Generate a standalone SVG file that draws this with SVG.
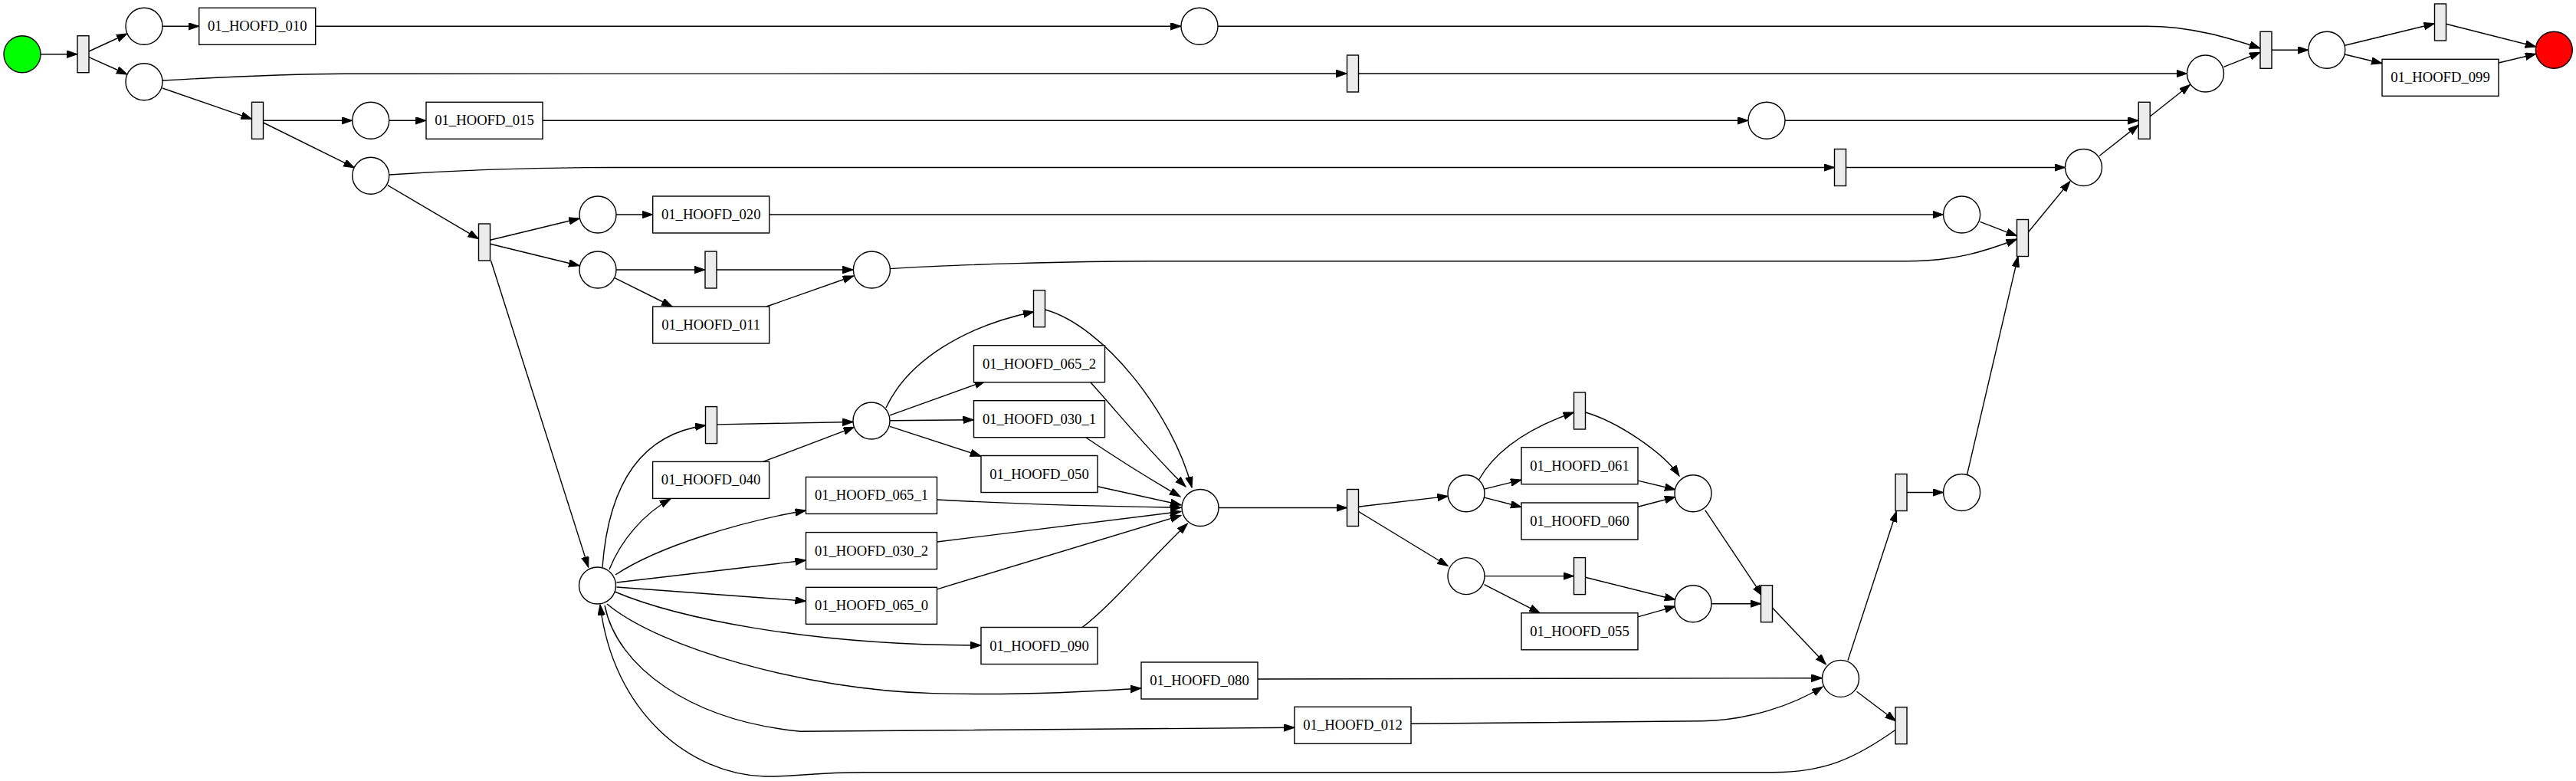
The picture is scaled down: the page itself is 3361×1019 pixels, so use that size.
<svg xmlns="http://www.w3.org/2000/svg" width="3361" height="1019" viewBox="0 0 3361 1019">
<style>
.pl{fill:#fff;stroke:#000;stroke-width:1.4}
.tr{fill:#ececec;stroke:#000;stroke-width:1.4}
.bx{fill:#fff;stroke:#000;stroke-width:1.4}
.lb{font-family:"Liberation Serif","Times New Roman",serif;font-size:18.67px;text-anchor:middle;fill:#000}
#edges path{fill:none;stroke:#000;stroke-width:1.4;marker-end:url(#a)}
</style>
<defs>
<marker id="a" markerWidth="15" markerHeight="11" refX="14" refY="4.8" orient="auto" markerUnits="userSpaceOnUse"><path d="M0,0 L14,4.8 L0,9.6 z" fill="#000" stroke="#000" stroke-width="1"/></marker>
</defs>
<rect width="3361" height="1019" fill="#fff"/>
<g id="edges">
<path d="M53,70.7 L101,70.7"/>
<path d="M116,67 L166,44"/>
<path d="M116,74.7 L166,97"/>
<path d="M212,34.3 L259.7,34.3"/>
<path d="M411.7,34.3 L1541,34.3"/>
<path d="M1589,34.3 L2800,34.3 C2860,34.3 2910,50 2949,63"/>
<path d="M212,105 C300,100 380,96.5 450,96.2 L1757.5,96"/>
<path d="M1772.5,96 L2853.5,96"/>
<path d="M212,115 L328.5,155.3"/>
<path d="M343.5,157.3 L459.7,157.3"/>
<path d="M343.5,160 L462.2,218.7"/>
<path d="M507.7,157.3 L556,157.3"/>
<path d="M708,157.3 L2281,157.3"/>
<path d="M507.6,228 C600,222 700,218.5 800,218.5 L2393.5,218.5"/>
<path d="M505.8,241.7 L624.5,311.7"/>
<path d="M639.5,313.3 L756.1,285"/>
<path d="M639.5,318.3 L756.1,346.7"/>
<path d="M640.5,340 L767.7,740.2"/>
<path d="M804,280 L851.7,280"/>
<path d="M1003.7,280 L2535.6,280"/>
<path d="M804,352 L920,352"/>
<path d="M935,352 L1113.4,352"/>
<path d="M802,362.7 L877.2,400"/>
<path d="M1000,400 L1113.7,360"/>
<path d="M1161,350.6 C1250,345 1400,341 1500,340.7 L2487,340.7 C2550,340.7 2590,328 2631.5,312"/>
<path d="M2583.5,289.4 L2631.5,307.8"/>
<path d="M2566.5,619.3 L2633,334.6"/>
<path d="M2646.5,302.8 L2700.9,236.6"/>
<path d="M2408.5,218.5 L2694.5,218.5"/>
<path d="M2739.3,203.3 L2790.2,163.1"/>
<path d="M2329,157.3 L2790.2,157.3"/>
<path d="M2805.2,152 L2857.5,110.5"/>
<path d="M2901.3,87.3 L2949,68.3"/>
<path d="M2964,65.3 L3011.8,65.3"/>
<path d="M3059.4,59.3 L3176.5,30.7"/>
<path d="M3059.4,71 L3108,82.7"/>
<path d="M3191.5,31.3 L3308.8,61"/>
<path d="M3260,82 L3308.8,70.3"/>
<path d="M786,740 C795,620 845,565 921,555"/>
<path d="M795,743 C810,705 840,670 875,651"/>
<path d="M803,750 C860,712 970,680 1051.5,666"/>
<path d="M804.5,760 L1051.5,731"/>
<path d="M804.5,766 L1051.5,784.3"/>
<path d="M802,772 C880,805 1050,842 1280,842"/>
<path d="M792,788 C860,845 1050,900 1216.6,904.6 C1300,907 1400,904 1489,898"/>
<path d="M789,790 C805,870 900,940 1044,954.3 L1689,949.3"/>
<path d="M2473.5,952 C2420,990 2380,1007.7 2313,1007.7 L1130,1007.7 C1060,1007.7 1030,1014 998,1013 C900,1010 800,930 783,789"/>
<path d="M935.3,553.9 L1113.3,550.5"/>
<path d="M995.6,602.4 L1114.4,557.4"/>
<path d="M1161,548.8 L1270.5,547.7"/>
<path d="M1161,556.3 L1280,595.2"/>
<path d="M1161,541.9 L1285.5,497.2"/>
<path d="M1156,532 C1185,470 1260,425 1349,406.7"/>
<path d="M1363.5,404 C1440,425 1530,540 1555,636"/>
<path d="M1423,499 C1460,540 1500,590 1547,635"/>
<path d="M1417,571 C1460,600 1500,625 1540,648"/>
<path d="M1432,634.7 L1541,658.8"/>
<path d="M1222.5,652 C1350,659 1450,661 1541.5,662.2"/>
<path d="M1222.5,707 L1541,667.4"/>
<path d="M1222.5,768.8 L1541,672.5"/>
<path d="M1412,818.6 C1450,790 1500,730 1549.5,683"/>
<path d="M1590,662.5 L1757.5,662.5"/>
<path d="M1772.5,661.2 L1889.3,647.4"/>
<path d="M1772.5,667.4 L1889.3,738.5"/>
<path d="M1929.5,626 C1950,590 1990,560 2053.5,538"/>
<path d="M1936.5,638.1 L1985,626.1"/>
<path d="M1936.5,649.1 L1985,661.5"/>
<path d="M2068.5,538 C2110,550 2170,590 2191,621"/>
<path d="M2137,627.1 L2185.9,638.8"/>
<path d="M2137,661.2 L2185.9,648.5"/>
<path d="M1937,751.6 L2053.5,751.6"/>
<path d="M1936.5,762.6 L2009.2,799.8"/>
<path d="M2068.5,753.3 L2185.9,782.5"/>
<path d="M2137,804.9 L2185.9,791.1"/>
<path d="M2233,787.7 L2297.5,787.7"/>
<path d="M2224.8,665.7 L2299.4,777.4"/>
<path d="M2312.5,792.9 L2382.3,866.8"/>
<path d="M1641,886 L2377.5,884.7"/>
<path d="M1841,944.3 L2221,940.7 C2280,940 2340,920 2378,896"/>
<path d="M2411,861.6 L2474.5,667"/>
<path d="M2422.5,902.2 L2473.5,940.7"/>
<path d="M2488,642.5 L2535.6,642.5"/>
</g>
<g id="start"><circle cx="29" cy="70.7" r="24" fill="#00ff00" stroke="#000" stroke-width="1.4"/></g>
<g id="end"><circle cx="3332.3" cy="65.3" r="24" fill="#ff0000" stroke="#000" stroke-width="1.4"/></g>
<g id="p1"><circle class="pl" cx="188" cy="34.3" r="24"/></g>
<g id="p2"><circle class="pl" cx="188" cy="106.7" r="24"/></g>
<g id="p3"><circle class="pl" cx="483.7" cy="157.3" r="24"/></g>
<g id="p4"><circle class="pl" cx="483.7" cy="229.3" r="24"/></g>
<g id="p5"><circle class="pl" cx="780" cy="280" r="24"/></g>
<g id="p6"><circle class="pl" cx="780" cy="352" r="24"/></g>
<g id="p7"><circle class="pl" cx="1137.4" cy="352" r="24"/></g>
<g id="hub"><circle class="pl" cx="779.5" cy="764" r="24"/></g>
<g id="p8"><circle class="pl" cx="1137" cy="549" r="24"/></g>
<g id="p9"><circle class="pl" cx="1566" cy="662.5" r="24"/></g>
<g id="p10"><circle class="pl" cx="1913" cy="643.7" r="24"/></g>
<g id="p11"><circle class="pl" cx="2209" cy="643.7" r="24"/></g>
<g id="p12"><circle class="pl" cx="1913" cy="751.6" r="24"/></g>
<g id="p13"><circle class="pl" cx="2209" cy="787.7" r="24"/></g>
<g id="p14"><circle class="pl" cx="2401.5" cy="885.4" r="24"/></g>
<g id="p15"><circle class="pl" cx="2559.6" cy="642.5" r="24"/></g>
<g id="p16"><circle class="pl" cx="2559.6" cy="280" r="24"/></g>
<g id="p17"><circle class="pl" cx="2718.5" cy="218.5" r="24"/></g>
<g id="p18"><circle class="pl" cx="2305" cy="157.3" r="24"/></g>
<g id="p19"><circle class="pl" cx="2877.5" cy="96" r="24"/></g>
<g id="p20"><circle class="pl" cx="3035.8" cy="65.3" r="24"/></g>
<g id="pA"><circle class="pl" cx="1565" cy="34.3" r="24"/></g>
<g id="t1"><rect class="tr" x="101" y="46.7" width="15" height="48"/></g>
<g id="t2"><rect class="tr" x="328.5" y="133.3" width="15" height="48"/></g>
<g id="t3"><rect class="tr" x="624.5" y="292" width="15" height="48"/></g>
<g id="t4"><rect class="tr" x="920" y="328" width="15" height="48"/></g>
<g id="t5"><rect class="tr" x="1348.5" y="378.7" width="15" height="48"/></g>
<g id="t6"><rect class="tr" x="920.5" y="530.6" width="15" height="48"/></g>
<g id="t7"><rect class="tr" x="1757.5" y="638.5" width="15" height="48"/></g>
<g id="t8"><rect class="tr" x="2053.5" y="512" width="15" height="48"/></g>
<g id="t9"><rect class="tr" x="2053.5" y="727.6" width="15" height="48"/></g>
<g id="t10"><rect class="tr" x="2297.5" y="763.7" width="15" height="48"/></g>
<g id="t11"><rect class="tr" x="2473" y="922.7" width="15" height="48"/></g>
<g id="t12"><rect class="tr" x="2473" y="618.5" width="15" height="48"/></g>
<g id="t13"><rect class="tr" x="2631.5" y="286.5" width="15" height="48"/></g>
<g id="t14"><rect class="tr" x="2393.5" y="194.5" width="15" height="48"/></g>
<g id="t15"><rect class="tr" x="2790.2" y="133.3" width="15" height="48"/></g>
<g id="t16"><rect class="tr" x="2949" y="41.3" width="15" height="48"/></g>
<g id="t17"><rect class="tr" x="3176.5" y="5" width="15" height="48"/></g>
<g id="tB"><rect class="tr" x="1757.5" y="72" width="15" height="48"/></g>
<g id="n010"><rect class="bx" x="259.7" y="10.3" width="152" height="48"/><text class="lb" x="335.7" y="40.3">01_HOOFD_010</text></g>
<g id="n015"><rect class="bx" x="556" y="133.3" width="152" height="48"/><text class="lb" x="632" y="163.3">01_HOOFD_015</text></g>
<g id="n020"><rect class="bx" x="851.7" y="256" width="152" height="48"/><text class="lb" x="927.7" y="286">01_HOOFD_020</text></g>
<g id="n011"><rect class="bx" x="851.7" y="400" width="152" height="48"/><text class="lb" x="927.7" y="430">01_HOOFD_011</text></g>
<g id="n040"><rect class="bx" x="851.6" y="602.4" width="152" height="48"/><text class="lb" x="927.6" y="632.4">01_HOOFD_040</text></g>
<g id="n065_2"><rect class="bx" x="1270.5" y="450.7" width="171" height="48"/><text class="lb" x="1356" y="480.7">01_HOOFD_065_2</text></g>
<g id="n030_1"><rect class="bx" x="1270.5" y="522.7" width="171" height="48"/><text class="lb" x="1356" y="552.7">01_HOOFD_030_1</text></g>
<g id="n050"><rect class="bx" x="1280" y="594.5" width="152" height="48"/><text class="lb" x="1356" y="624.5">01_HOOFD_050</text></g>
<g id="n065_1"><rect class="bx" x="1051.5" y="622.4" width="171" height="48"/><text class="lb" x="1137" y="652.4">01_HOOFD_065_1</text></g>
<g id="n030_2"><rect class="bx" x="1051.5" y="694.6" width="171" height="48"/><text class="lb" x="1137" y="724.6">01_HOOFD_030_2</text></g>
<g id="n065_0"><rect class="bx" x="1051.5" y="766.3" width="171" height="48"/><text class="lb" x="1137" y="796.3">01_HOOFD_065_0</text></g>
<g id="n090"><rect class="bx" x="1280" y="818.5" width="152" height="48"/><text class="lb" x="1356" y="848.5">01_HOOFD_090</text></g>
<g id="n080"><rect class="bx" x="1489" y="864" width="152" height="48"/><text class="lb" x="1565" y="894">01_HOOFD_080</text></g>
<g id="n012"><rect class="bx" x="1689" y="922.3" width="152" height="48"/><text class="lb" x="1765" y="952.3">01_HOOFD_012</text></g>
<g id="n061"><rect class="bx" x="1985" y="583.7" width="152" height="48"/><text class="lb" x="2061" y="613.7">01_HOOFD_061</text></g>
<g id="n060"><rect class="bx" x="1985" y="656" width="152" height="48"/><text class="lb" x="2061" y="686">01_HOOFD_060</text></g>
<g id="n055"><rect class="bx" x="1985" y="799.8" width="152" height="48"/><text class="lb" x="2061" y="829.8">01_HOOFD_055</text></g>
<g id="n099"><rect class="bx" x="3108" y="77.3" width="152" height="48"/><text class="lb" x="3184" y="107.3">01_HOOFD_099</text></g>
</svg>
